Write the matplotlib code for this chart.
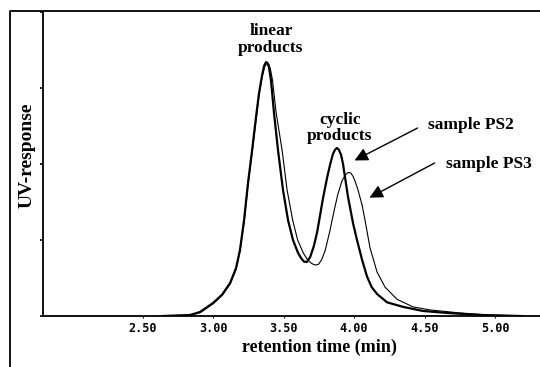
import numpy as np
from matplotlib import pyplot as plt
from matplotlib.lines import Line2D

plt.rcParams['font.family'] = ['Liberation Serif', 'DejaVu Serif']

# sample PS2 (thick line)
ps2_time = [2.645, 2.837, 2.908, 3.000, 3.064, 3.121, 3.163, 3.191, 3.220, 3.248,
            3.277, 3.305, 3.326, 3.348, 3.362, 3.376, 3.386, 3.397, 3.411, 3.433,
            3.461, 3.496, 3.532, 3.567, 3.603, 3.625, 3.645, 3.665, 3.690, 3.715,
            3.738, 3.780, 3.809, 3.830, 3.850, 3.866, 3.879, 3.892, 3.908, 3.922,
            3.957, 3.993, 4.021, 4.057, 4.092, 4.125, 4.163, 4.234, 4.348, 4.489,
            4.660, 4.894, 5.180]
ps2_uv = [0.0, 0.013, 0.053, 0.171, 0.28, 0.434, 0.63, 0.868, 1.26, 1.75,
          2.18, 2.62, 2.93, 3.17, 3.29, 3.34, 3.33, 3.27, 3.10, 2.66,
          2.18, 1.66, 1.26, 1.00, 0.83, 0.76, 0.715, 0.71, 0.78, 0.92,
          1.10, 1.55, 1.82, 1.99, 2.13, 2.19, 2.21, 2.19, 2.12, 2.00,
          1.57, 1.22, 1.00, 0.74, 0.52, 0.38, 0.29, 0.18, 0.12, 0.066,
          0.04, 0.013, 0.0]

# sample PS3 (thin line)
ps3_time = [2.660, 2.840, 2.910, 3.000, 3.064, 3.121, 3.163, 3.191, 3.220, 3.248,
            3.277, 3.305, 3.326, 3.348, 3.366, 3.383, 3.396, 3.408, 3.422, 3.447,
            3.490, 3.525, 3.565, 3.600, 3.640, 3.670, 3.700, 3.725, 3.748, 3.770,
            3.795, 3.830, 3.858, 3.885, 3.915, 3.940, 3.960, 3.978, 3.995, 4.010,
            4.028, 4.057, 4.078, 4.113, 4.163, 4.220, 4.305, 4.418, 4.539, 4.752,
            4.965, 5.210]
ps3_uv = [0.0, 0.01, 0.045, 0.16, 0.27, 0.42, 0.61, 0.85, 1.23, 1.72,
          2.15, 2.58, 2.90, 3.14, 3.28, 3.33, 3.31, 3.24, 3.10, 2.68,
          2.18, 1.66, 1.26, 1.00, 0.83, 0.74, 0.69, 0.67, 0.68, 0.74,
          0.86, 1.13, 1.38, 1.60, 1.78, 1.86, 1.89, 1.88, 1.83, 1.76,
          1.66, 1.46, 1.26, 0.90, 0.58, 0.38, 0.22, 0.12, 0.08, 0.04,
          0.013, 0.0]

xticks = [2.50, 3.00, 3.50, 4.00, 4.50, 5.00]
yticks = [0, 1, 2, 3, 4]

fig = plt.figure(figsize=(5.4, 3.67), dpi=100)
ax = fig.add_axes([43 / 540, 51 / 367, 497 / 540, 304 / 367])

ax.plot(ps2_time, ps2_uv, color='black', lw=1.6, solid_joinstyle='round')
ax.plot(ps3_time, ps3_uv, color='black', lw=0.8, solid_joinstyle='round')

ax.set_xlim(1.794, 5.319)
ax.set_ylim(0, 4)
ax.set_xticks(xticks)
ax.set_xticklabels(['%.2f' % t for t in xticks],
                   fontfamily='DejaVu Sans Mono', fontweight='bold', fontsize=8.5)
ax.set_yticks(yticks)
ax.set_yticklabels([])
ax.tick_params(axis='x', length=1.5, width=0.8, pad=3)
ax.tick_params(axis='y', length=2.5, width=1.2, direction='out')
for s in ['top', 'right']:
    ax.spines[s].set_visible(False)
for s in ['left', 'bottom']:
    ax.spines[s].set_linewidth(1.3)

lbl = dict(fontweight='bold', fontsize=12.5)
ax.set_xlabel('retention time (min)', fontweight='bold', fontsize=13)
ax.xaxis.set_label_coords(0.557, -0.073)
ax.set_ylabel('UV-response', fontweight='bold', fontsize=14)
ax.yaxis.set_label_coords(-0.014, 0.53)

# peak labels
ax.text(3.41, 3.64, 'linear\nproducts', ha='center', va='center', linespacing=1.05, **lbl)
ax.text(3.90, 2.48, 'cyclic\nproducts', ha='center', va='center', linespacing=1.0, **lbl)

# sample arrows
ax.annotate('', xy=(3.986, 2.03), xytext=(4.468, 2.49),
            arrowprops=dict(arrowstyle='-|>,head_length=0.8,head_width=0.4', color='black', lw=1.0))
ax.annotate('', xy=(4.092, 1.54), xytext=(4.589, 2.03),
            arrowprops=dict(arrowstyle='-|>,head_length=0.8,head_width=0.4', color='black', lw=1.0))
ax.text(4.525, 2.51, 'sample PS2', ha='left', va='center', **lbl)
ax.text(4.652, 2.00, 'sample PS3', ha='left', va='center', **lbl)

# outer frame line on left and top
fig.add_artist(Line2D([10 / 540, 10 / 540, 1.0], [0.0, 1 - 11 / 367, 1 - 11 / 367],
                      transform=fig.transFigure, color='black', lw=1.3))

plt.savefig('out.png', dpi=100)
